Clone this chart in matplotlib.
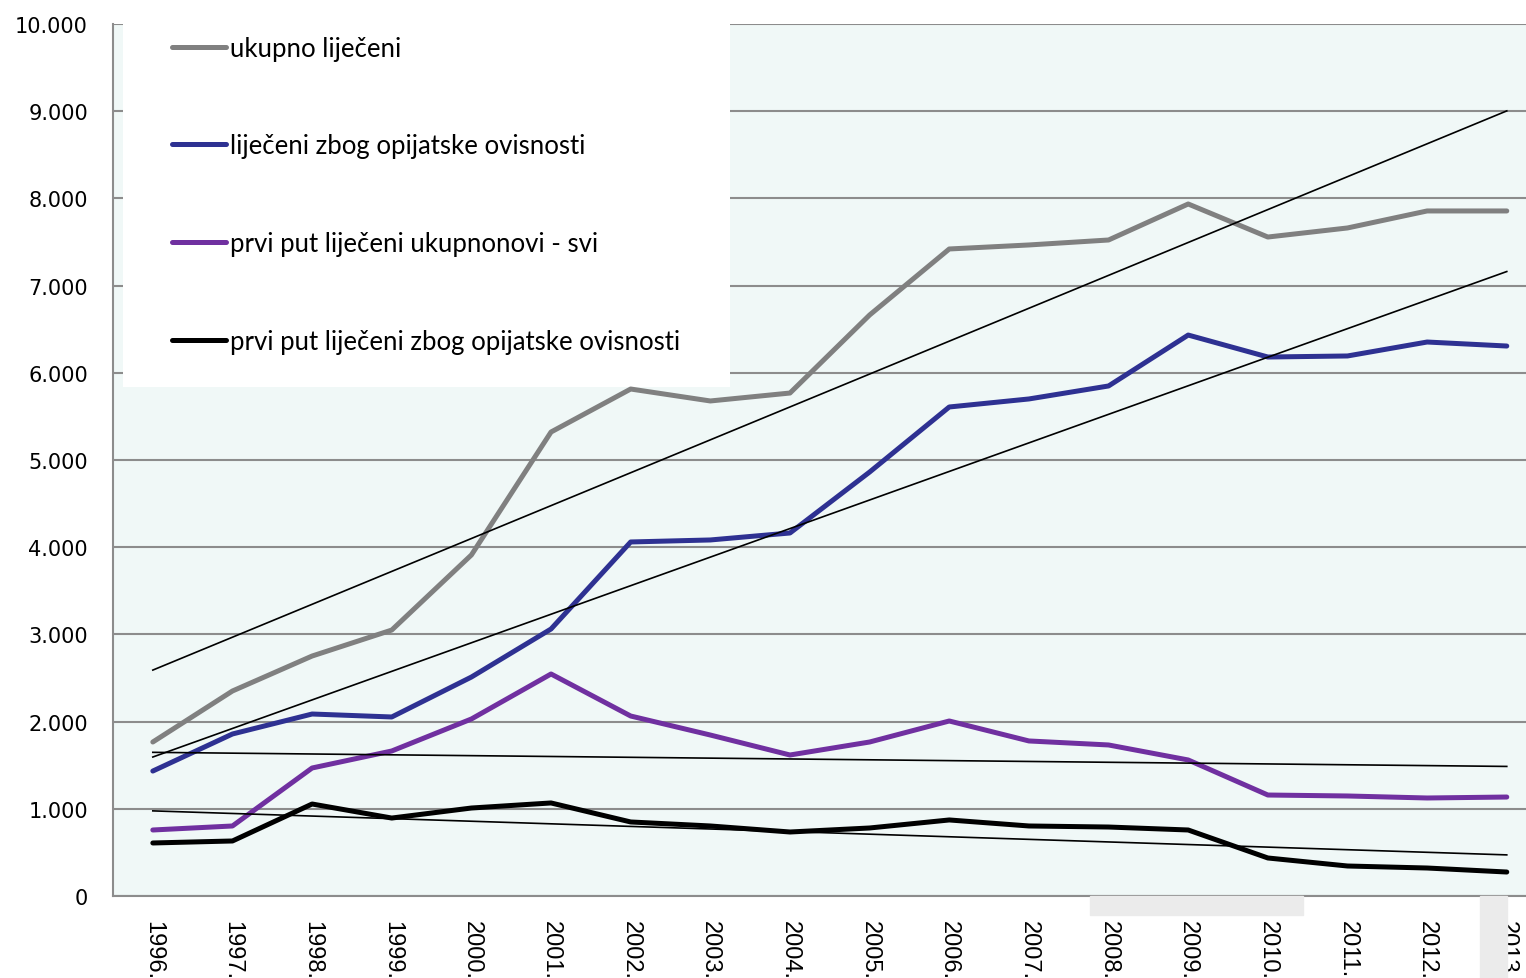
import numpy as np
import matplotlib.pyplot as plt
from matplotlib.patches import Rectangle
from matplotlib.ticker import FuncFormatter

years = ['1996.', '1997.', '1998.', '1999.', '2000.', '2001.', '2002.', '2003.', '2004.',
         '2005.', '2006.', '2007.', '2008.', '2009.', '2010.', '2011.', '2012.', '2013.']

ukupno = [1766, 2351, 2752, 3050, 3911, 5321, 5814, 5677, 5768,
          6663, 7420, 7466, 7523, 7936, 7557, 7661, 7856, 7856]
opijati = [1433, 1858, 2087, 2053, 2511, 3062, 4060, 4083, 4163,
           4862, 5608, 5700, 5849, 6433, 6181, 6193, 6353, 6307]
prvi_svi = [757, 803, 1468, 1663, 2030, 2546, 2064, 1846, 1617,
            1766, 2007, 1778, 1732, 1560, 1158, 1147, 1124, 1135]
prvi_opijati = [608, 631, 1055, 894, 1009, 1067, 849, 803, 734,
                780, 872, 803, 791, 757, 436, 344, 321, 275]

labels = ['ukupno liječeni', 'liječeni zbog opijatske ovisnosti',
          'prvi put liječeni ukupnonovi - svi', 'prvi put liječeni zbog opijatske ovisnosti']
colors = ['#808080', '#2E3192', '#7030A0', '#000000']

fig = plt.figure(figsize=(15.26, 9.79), dpi=100)
ax = fig.add_axes([113 / 1526, 82 / 979, 1433.6 / 1526, 872 / 979])
ax.set_facecolor('#F0F8F7')

# grey blobs behind some of the tick labels in the original
fig.patches.append(Rectangle((1090 / 1526, 63 / 979), 213 / 1526, 19 / 979,
                             transform=fig.transFigure, color='#EBEBEB', zorder=0))
fig.patches.append(Rectangle((1480 / 1526, 0), 27 / 1526, 82 / 979,
                             transform=fig.transFigure, color='#EBEBEB', zorder=0))

x = np.arange(len(years))
series = [ukupno, opijati, prvi_svi, prvi_opijati]
handles = []
for vals, lab, c in zip(series, labels, colors):
    h, = ax.plot(x, vals, color=c, linewidth=3.6, solid_capstyle='round',
                 solid_joinstyle='round', label=lab, zorder=3)
    handles.append(h)
    k, b = np.polyfit(x, vals, 1)
    ax.plot(x, k * x + b, color='black', linewidth=1.2, zorder=4)

ax.set_xlim(-0.5, 17.5)
ax.set_ylim(0, 10000)
ax.set_yticks(np.arange(0, 10001, 1000))
ax.yaxis.set_major_formatter(FuncFormatter(lambda v, p: f'{int(v):,}'.replace(',', '.')))
ax.set_xticks(x)
ax.set_xticklabels(years, rotation=270, fontsize=17, family='Liberation Sans')
ax.tick_params(axis='y', length=0, pad=18, labelsize=15)
ax.tick_params(axis='x', length=0, pad=17)
ax.grid(axis='y', color='#8C8C8C', linewidth=1.5, zorder=1)
ax.set_axisbelow(True)
for s in ['top', 'right']:
    ax.spines[s].set_visible(False)
for s in ['left', 'bottom']:
    ax.spines[s].set_color('#8C8C8C')
    ax.spines[s].set_linewidth(1.5)

ax.add_patch(Rectangle((10 / 1433.6, (897 - 388) / 872), 607 / 1433.6, 363 / 872,
                       transform=ax.transAxes, facecolor='white', edgecolor='none', zorder=2))
leg = ax.legend(handles=handles, loc='upper left', bbox_to_anchor=(51 / 1433.6, 0.9954),
                frameon=False, borderpad=0.3, borderaxespad=0, labelspacing=2.83,
                handlelength=2.1, handletextpad=0.15, prop={'family': 'Lato', 'size': 18.5})
leg.set_zorder(5)

fig.savefig('out.png', dpi=100)
